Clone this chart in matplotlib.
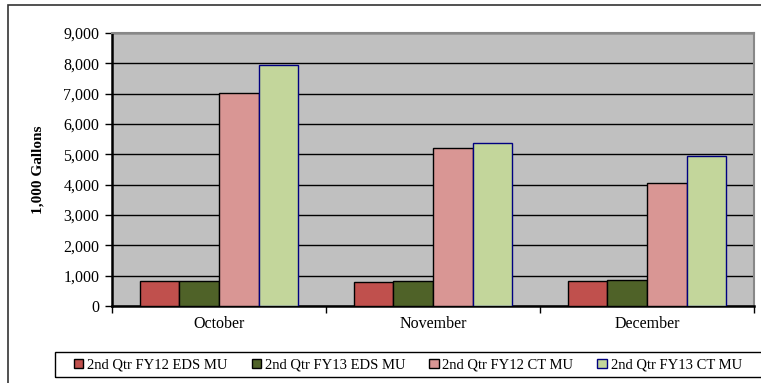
import matplotlib.pyplot as plt
import matplotlib.patches as mpatches
from matplotlib.ticker import FuncFormatter
import numpy as np

plt.rcParams['font.family'] = ['Liberation Serif', 'DejaVu Serif']

months = ["October", "November", "December"]
series_names = ["2nd Qtr FY12 EDS MU", "2nd Qtr FY13 EDS MU",
                "2nd Qtr FY12 CT MU", "2nd Qtr FY13 CT MU"]
fy12_eds = [820, 800, 830]
fy13_eds = [820, 830, 860]
fy12_ct = [7030, 5210, 4050]
fy13_ct = [7930, 5360, 4930]

colors = ["#C0504D", "#4F6228", "#D99694", "#C3D69B"]
edges = ["black", "black", "black", "#000080"]

fig = plt.figure(figsize=(7.61, 3.83), dpi=100)
W, H = 761, 383

# outer chart border
fig.patches.append(mpatches.Rectangle((8 / W, -0.01), 0.999, 1 - 5 / H + 0.01,
                                      transform=fig.transFigure, fill=False,
                                      edgecolor="#333333", linewidth=1.2))

ax = fig.add_axes([112 / W, 1 - 306 / H, (754 - 112) / W, (306 - 33) / H])
ax.set_facecolor("#C0C0C0")

x = np.arange(len(months))
width = 0.185
data = [fy12_eds, fy13_eds, fy12_ct, fy13_ct]
for i, vals in enumerate(data):
    ax.bar(x + (i - 1.5) * width, vals, width, color=colors[i],
           edgecolor=edges[i], linewidth=1.0, label=series_names[i], zorder=3)

ax.set_xlim(-0.5, 2.5)
ax.set_ylim(0, 9000)
ax.set_yticks(range(0, 9001, 1000))
ax.yaxis.set_major_formatter(FuncFormatter(lambda v, p: f"{int(v):,}"))
ax.grid(axis="y", color="black", linewidth=1.0, zorder=1)
ax.set_axisbelow(True)

ax.set_xticks(x)
ax.set_xticklabels(months, fontsize=11.5)
ax.set_xticks([-0.5, 0.5, 1.5, 2.5], minor=True)
ax.tick_params(axis="x", which="major", length=0, pad=7)
ax.tick_params(axis="x", which="minor", length=5, width=1, color="black")
ax.tick_params(axis="y", length=5, width=1, labelsize=11.5, pad=4)

for s in ["top", "right"]:
    ax.spines[s].set_color("#888888")
    ax.spines[s].set_linewidth(1.5)
ax.spines["left"].set_linewidth(1.8)
ax.spines["bottom"].set_linewidth(1.8)

ax.set_ylabel("1,000 Gallons", fontsize=11, fontweight="bold", labelpad=14)

# legend box runs past the right edge of the chart
fig.patches.append(mpatches.Rectangle((55 / W, 1 - 377 / H), (790 - 55) / W, 25 / H,
                                      transform=fig.transFigure, fill=False,
                                      edgecolor="black", linewidth=1.0))
leg = fig.legend(loc="center left", bbox_to_anchor=(74 / W, 1 - 365 / H),
                 ncol=4, fontsize=10.5, frameon=False,
                 handlelength=0.65, handleheight=0.65, handletextpad=0.25,
                 columnspacing=1.65, borderpad=0, borderaxespad=0)

fig.savefig("out.png", dpi=100)
